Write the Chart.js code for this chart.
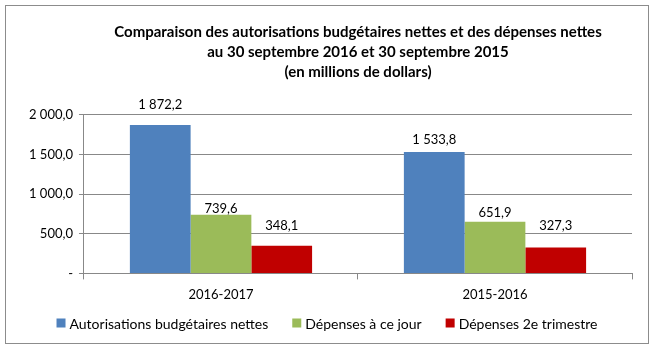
<!DOCTYPE html>
<html>
<head>
<meta charset="utf-8">
<script src="https://cdn.jsdelivr.net/npm/chart.js@4"></script>
<style>
  body { margin: 0; background: #fff; }
  #box { position: absolute; left: 5px; top: 5px; width: 642px; height: 337px; border: 1px solid #8c8c8c; }
  canvas { display: block; }
</style>
</head>
<body>
<div id="box"><canvas id="c" width="642" height="337"></canvas></div>
<script>
const categories = ['2016-2017', '2015-2016'];
const autorisations = [1872.2, 1533.8];
const depensesJour = [739.6, 651.9];
const depensesTrim = [348.1, 327.3];
const titleLines = [
  'Comparaison des autorisations budgétaires nettes et des dépenses nettes',
  'au 30 septembre 2016 et 30 septembre 2015',
  '(en millions de dollars)'
];

const FONT = 'Lato, "Open Sans", sans-serif';

// the labels in the original were nudged by hand: distance above each bar top
const labelLift = [[20, 12], [6, 9], [20, 22]];

const fmt = v => {
  if (v === 0) return '-';
  const parts = v.toFixed(1).split('.');
  return parts[0].replace(/\B(?=(\d{3})+(?!\d))/g, ' ') + ',' + parts[1];
};

const valueLabels = {
  id: 'valueLabels',
  afterDatasetsDraw(chart) {
    const ctx = chart.ctx;
    ctx.save();
    ctx.font = '13px ' + FONT;
    ctx.fillStyle = '#000';
    ctx.textAlign = 'center';
    ctx.textBaseline = 'middle';
    chart.data.datasets.forEach((ds, i) => {
      chart.getDatasetMeta(i).data.forEach((bar, j) => {
        ctx.fillText(fmt(ds.data[j]), bar.x, bar.y - labelLift[i][j]);
      });
    });
    ctx.restore();
  }
};

// legend drawn by hand so the spacing can follow the original
const bottomLegend = {
  id: 'bottomLegend',
  afterDraw(chart) {
    const ctx = chart.ctx;
    const y = 317, box = 9, gap = 4, space = 24;
    ctx.save();
    ctx.font = '14px ' + FONT;
    ctx.textBaseline = 'middle';
    const items = chart.data.datasets.map(ds => ({ text: ds.label, color: ds.backgroundColor, w: ctx.measureText(ds.label).width }));
    const total = items.reduce((s, it) => s + box + gap + it.w, 0) + space * (items.length - 1);
    let x = (chart.width - total) / 2;
    items.forEach(it => {
      ctx.fillStyle = it.color;
      ctx.fillRect(x, y - box / 2, box, box);
      x += box + gap;
      ctx.fillStyle = '#000';
      ctx.fillText(it.text, x, y + 1);
      x += it.w + space;
    });
    ctx.restore();
  }
};

new Chart(document.getElementById('c'), {
  type: 'bar',
  data: {
    labels: categories,
    datasets: [
      { label: 'Autorisations budgétaires nettes', data: autorisations, backgroundColor: '#4F81BD' },
      { label: 'Dépenses à ce jour', data: depensesJour, backgroundColor: '#9BBB59' },
      { label: 'Dépenses 2e trimestre', data: depensesTrim, backgroundColor: '#C00000' }
    ]
  },
  options: {
    responsive: false,
    animation: false,
    layout: { padding: { left: 17, right: 16, top: 8, bottom: 32 } },
    datasets: { bar: { categoryPercentage: 0.665, barPercentage: 1 } },
    plugins: {
      title: {
        display: true,
        text: titleLines,
        fullSize: false,
        color: '#000',
        font: { family: FONT, size: 15, weight: 'bold', lineHeight: 1.333 },
        padding: { top: 8, bottom: 33 }
      },
      legend: { display: false },
      tooltip: { enabled: false }
    },
    scales: {
      x: {
        grid: { display: true, drawOnChartArea: false, drawTicks: true, tickLength: 6, color: '#888', offset: true },
        border: { color: '#888' },
        ticks: { color: '#000', font: { family: FONT, size: 13 }, padding: 8 }
      },
      y: {
        min: 0,
        max: 2000,
        ticks: {
          stepSize: 500,
          color: '#000',
          padding: 6,
          font: { family: FONT, size: 13 },
          callback: v => fmt(v)
        },
        grid: { color: '#888', tickLength: 5 },
        border: { color: '#888' }
      }
    }
  },
  plugins: [valueLabels, bottomLegend]
});
</script>
</body>
</html>
